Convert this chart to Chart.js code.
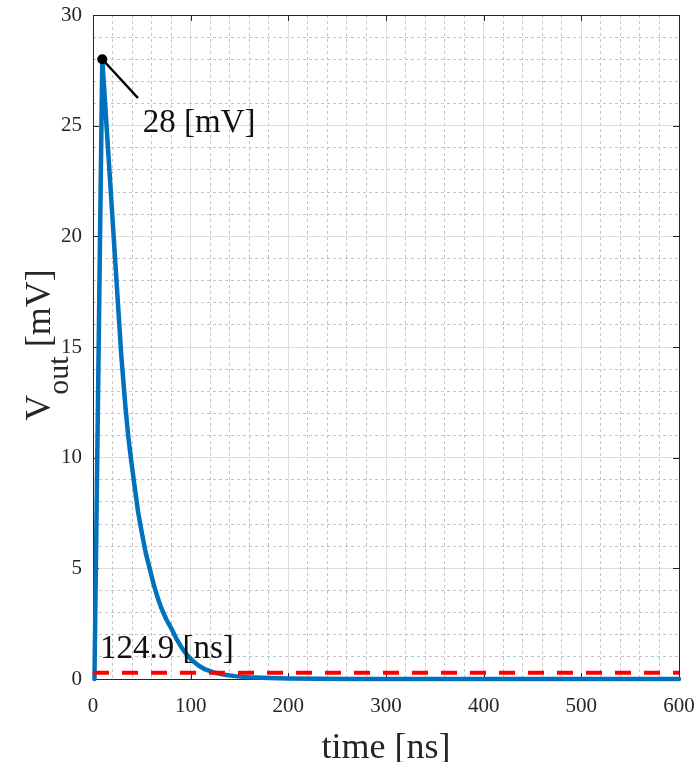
<!DOCTYPE html>
<html>
<head>
<meta charset="utf-8">
<title>Vout</title>
<script src="https://cdn.jsdelivr.net/npm/chart.js@4.4.1/dist/chart.umd.min.js"></script>
<style>
  html, body { margin: 0; padding: 0; background: #fff; }
  canvas { display: block; }
</style>
</head>
<body>
<canvas id="vout" width="700" height="762"></canvas>
<script>
// output pulse: time in ns, amplitude in mV
const timeNs = [1.5, 9.5, 29, 33, 36, 39, 42, 46, 50, 54, 58, 62, 66, 70, 75, 80, 85, 90, 96,
    102, 108, 115, 124.9, 135, 145, 160, 180, 200, 230, 270, 320, 400, 600];
const voutMv = [0, 28, 14.6, 12.4, 11.0, 9.9, 8.9, 7.6, 6.6, 5.7, 5.0, 4.3, 3.7, 3.2, 2.7, 2.3, 1.85, 1.47, 1.1,
    0.82, 0.61, 0.43, 0.28, 0.19, 0.13, 0.08, 0.045, 0.025, 0.012, 0.005, 0.002, 0, 0];

// settling threshold and the time the pulse falls below it
const thresholdMv = 0.28;
const settleTimeNs = 124.9;
const thresholdSpan = [0, 600];

const xTicks = [0, 100, 200, 300, 400, 500, 600];
const yTicks = [0, 5, 10, 15, 20, 25, 30];

const serif = 'Liberation Serif';
const axisColor = '#262626';

let peakIdx = 0;
voutMv.forEach((v, i) => { if (v > voutMv[peakIdx]) peakIdx = i; });

const pulse = timeNs.map((t, i) => ({ x: t, y: voutMv[i] }));
const threshold = thresholdSpan.map(t => ({ x: t, y: thresholdMv }));
const peak = [{ x: timeNs[peakIdx], y: voutMv[peakIdx] }];

// box around the axes with inward tick marks
const frame = {
    id: 'frame',
    beforeDatasetsDraw(chart) {
        const { ctx, chartArea: a, scales } = chart;
        ctx.save();
        ctx.strokeStyle = axisColor;
        ctx.lineWidth = 1;
        ctx.strokeRect(Math.round(a.left) + 0.5, Math.round(a.top) + 0.5,
            Math.round(a.right - a.left), Math.round(a.bottom - a.top));
        ctx.beginPath();
        xTicks.forEach(t => {
            const px = Math.round(scales.x.getPixelForValue(t)) + 0.5;
            ctx.moveTo(px, a.bottom); ctx.lineTo(px, a.bottom - 6);
            ctx.moveTo(px, a.top); ctx.lineTo(px, a.top + 6);
        });
        yTicks.forEach(v => {
            const py = Math.round(scales.y.getPixelForValue(v)) + 0.5;
            ctx.moveTo(a.left, py); ctx.lineTo(a.left + 6, py);
            ctx.moveTo(a.right, py); ctx.lineTo(a.right - 6, py);
        });
        ctx.stroke();
        ctx.restore();
    }
};

// axis titles and the two annotations
const labels = {
    id: 'labels',
    afterDraw(chart) {
        const { ctx, chartArea: a, scales } = chart;
        const x = scales.x, y = scales.y;
        ctx.save();
        ctx.fillStyle = axisColor;

        // x title
        ctx.font = '36px ' + serif;
        ctx.textAlign = 'center';
        ctx.textBaseline = 'alphabetic';
        ctx.fillText('time [ns]', (a.left + a.right) / 2, 758);

        // y title with subscript
        ctx.translate(50, 345);
        ctx.rotate(-Math.PI / 2);
        ctx.textAlign = 'left';
        const big = '36px ' + serif, sub = '30px ' + serif;
        ctx.font = big;
        const wV = ctx.measureText('V').width;
        ctx.font = sub;
        const wSub = ctx.measureText('out').width;
        ctx.font = big;
        const wRest = ctx.measureText(' [mV]').width;
        let cx = -(wV + wSub + wRest) / 2;
        ctx.fillText('V', cx, 0);
        cx += wV;
        ctx.font = sub;
        ctx.fillText('out', cx, 18);
        cx += wSub;
        ctx.font = big;
        ctx.fillText(' [mV]', cx, 0);
        ctx.setTransform(1, 0, 0, 1, 0, 0);

        // peak annotation
        const px = x.getPixelForValue(peak[0].x), py = y.getPixelForValue(peak[0].y);
        ctx.strokeStyle = '#000';
        ctx.lineWidth = 2.5;
        ctx.beginPath();
        ctx.moveTo(px, py);
        ctx.lineTo(x.getPixelForValue(46), y.getPixelForValue(26.25));
        ctx.stroke();
        ctx.fillStyle = '#000';
        ctx.beginPath();
        ctx.arc(px, py, 5, 0, Math.PI * 2);
        ctx.fill();
        ctx.font = '33px ' + serif;
        ctx.textAlign = 'left';
        ctx.fillStyle = '#111';
        ctx.fillText(Math.round(peak[0].y) + ' [mV]', x.getPixelForValue(51), y.getPixelForValue(24.7));

        // settling time
        ctx.fillText(settleTimeNs.toFixed(1) + ' [ns]', x.getPixelForValue(0) + 7, y.getPixelForValue(thresholdMv) - 15);
        ctx.restore();
    }
};

const tickFont = { family: serif, size: 21 };

// drop the extra room chart.js reserves for overhanging tick labels
function noOverhang(s) {
    s.paddingTop = 0;
    s.paddingBottom = 0;
    s.paddingLeft = 0;
    s.paddingRight = 0;
}

new Chart(document.getElementById('vout').getContext('2d'), {
    type: 'line',
    data: {
        datasets: [
            {
                data: threshold,
                borderColor: '#ff0000',
                borderWidth: 4,
                borderDash: [16, 13],
                pointRadius: 0,
                clip: false
            },
            {
                data: pulse,
                borderColor: '#0072bd',
                borderWidth: 4.5,
                pointRadius: 0,
                tension: 0,
                borderCapStyle: 'round',
                borderJoinStyle: 'round',
                clip: 6
            }
        ]
    },
    options: {
        responsive: false,
        animation: false,
        layout: { padding: { top: 15, right: 21, left: 0, bottom: 0 } },
        plugins: { legend: { display: false }, tooltip: { enabled: false } },
        scales: {
            x: {
                type: 'linear', min: 0, max: 600,
                ticks: { stepSize: 100, padding: 15, color: axisColor, font: tickFont, maxRotation: 0 },
                grid: { color: '#dedede', drawTicks: false },
                border: { display: false },
                afterFit(s) { s.height = 83; noOverhang(s); }
            },
            y: {
                type: 'linear', min: 0, max: 30,
                ticks: { stepSize: 5, padding: 11, color: axisColor, font: tickFont },
                grid: { color: '#dedede', drawTicks: false },
                border: { display: false },
                afterFit(s) { s.width = 93; noOverhang(s); }
            },
            xMinor: {
                type: 'linear', min: 0, max: 600, position: 'bottom',
                ticks: { display: false, stepSize: 20 },
                grid: { color: c => (c.tick && c.tick.value % 100 === 0) ? 'rgba(0,0,0,0)' : '#c4c4c4', drawTicks: false },
                border: { display: false, dash: [3, 3] },
                afterFit(s) { s.height = 0; noOverhang(s); }
            },
            yMinor: {
                type: 'linear', min: 0, max: 30, position: 'left',
                ticks: { display: false, stepSize: 1 },
                grid: { color: c => (c.tick && c.tick.value % 5 === 0) ? 'rgba(0,0,0,0)' : '#c4c4c4', drawTicks: false },
                border: { display: false, dash: [3, 3] },
                afterFit(s) { s.width = 0; noOverhang(s); }
            }
        }
    },
    plugins: [frame, labels]
});
</script>
</body>
</html>
